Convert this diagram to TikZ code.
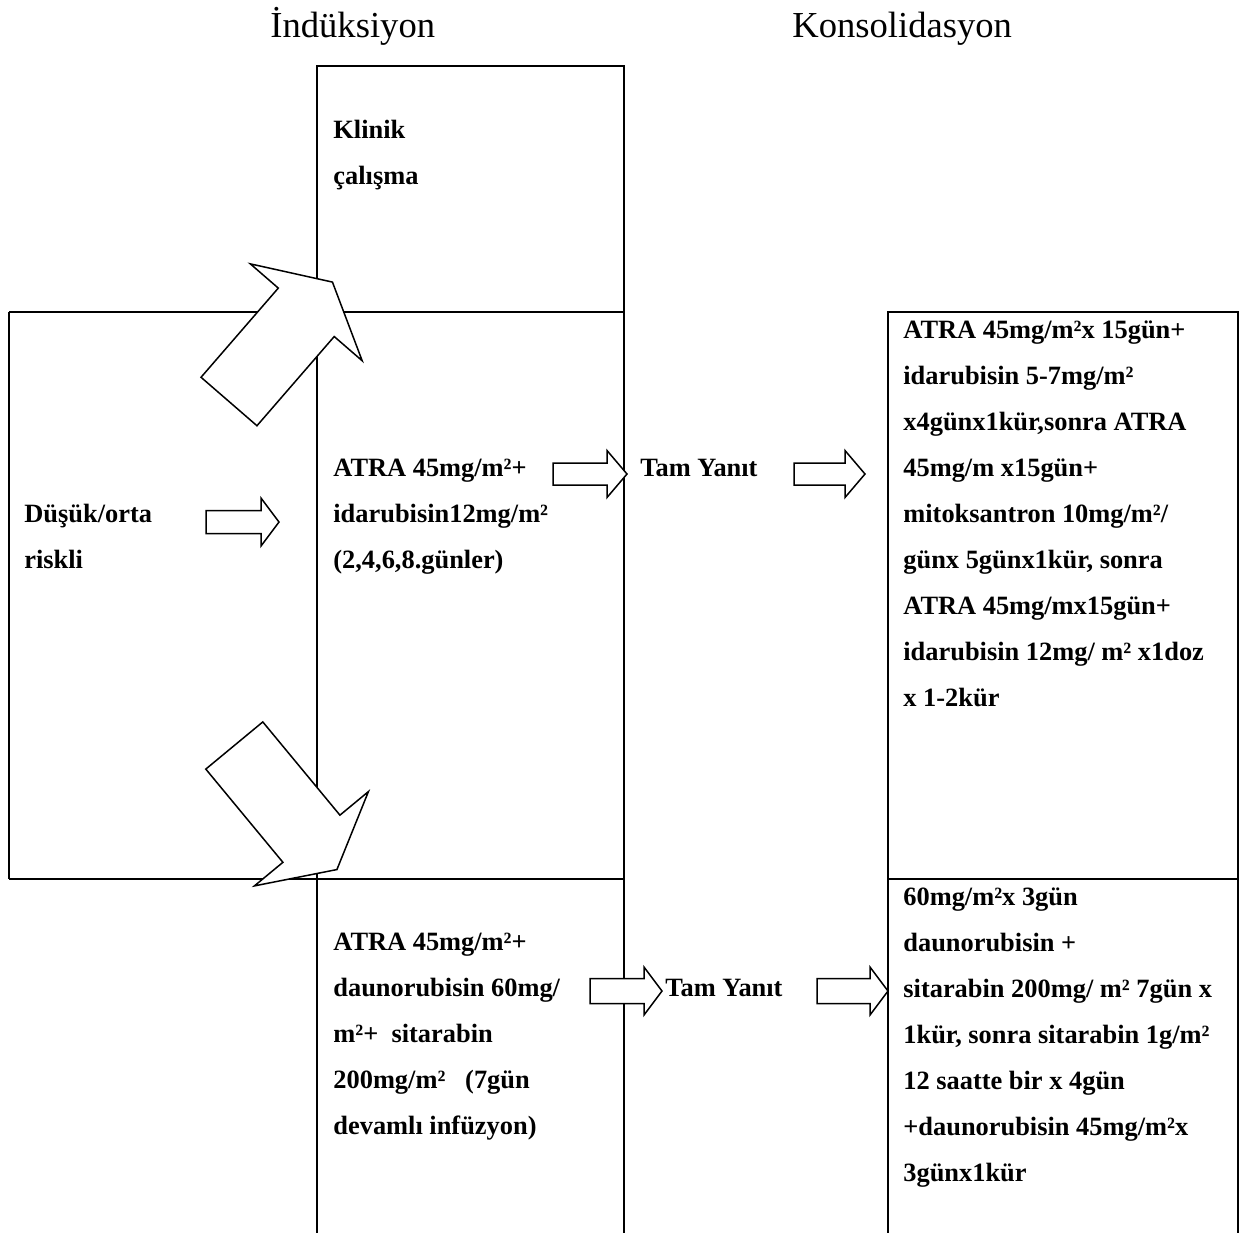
\documentclass[tikz,border=0pt]{standalone}
\usepackage{fontspec}
\setmainfont{Liberation Serif}
\usepackage{tikz}

% block arrow: tail x, tail y, angle, shaft length, shaft width, head width, head length
\newcommand{\blockarrow}[7]{%
  \begin{scope}[shift={(#1,#2)},rotate=#3]
    \draw[blockarr] (0,-#5/2) -- (#4,-#5/2) -- (#4,-#6/2) -- (#4+#7,0) -- (#4,#6/2) -- (#4,#5/2) -- (0,#5/2) -- cycle;
  \end{scope}}

\begin{document}
\begin{tikzpicture}[x=0.5pt,y=-0.5pt,
    cell/.style={line width=1pt},
    blockarr/.style={line width=0.75pt,fill=white,line join=miter},
    txt/.style={anchor=base west,inner sep=0pt,align=left,font=\fontsize{13.2}{23}\selectfont\bfseries},
    title/.style={anchor=base west,inner sep=0pt,font=\fontsize{18.3}{22}\selectfont}]
        \useasboundingbox (0,0) rectangle (1239,1233);

        % table lines
        \begin{scope}[cell]
            \draw (317,312) -- (317,66) -- (624,66) -- (624,312);
            \draw (9,312) -- (624,312);
            \draw (9,879) -- (624,879);
            \draw (9,312) -- (9,879);
            \draw (317,312) -- (317,1233);
            \draw (624,312) -- (624,1233);
            \draw (888,1233) -- (888,312) -- (1238,312) -- (1238,1233);
            \draw (888,879) -- (1238,879);
        \end{scope}

        % arrows
        \blockarrow{229}{401.5}{49.1}{118}{74}{148}{40}
        \blockarrow{234.3}{745.5}{-50.4}{121}{74}{148}{40}
        \blockarrow{206}{522}{0}{55}{23}{48}{18}
        \blockarrow{553}{474}{0}{54}{22}{47}{20}
        \blockarrow{794}{474}{0}{51}{22}{47}{20}
        \blockarrow{590}{991}{0}{54}{25}{48}{18}
        \blockarrow{817}{991}{0}{53}{25}{48}{18}

        % texts (base = baseline of the last line)
        \node[title] (induksiyon) at (270,37) {İndüksiyon};
        \node[title] (konsolidasyon) at (792,37) {Konsolidasyon};
        \node[txt] (klinik) at (333,184) {Klinik\\çalışma};
        \node[txt] (dusuk) at (24,568) {Düşük/orta\\riskli};
        \node[txt] (atraida) at (333,568) {ATRA 45mg/m²+\\idarubisin12mg/m²\\(2,4,6,8.günler)};
        \node[txt] (tamA) at (640,476) {Tam Yanıt};
        \node[txt] (konsA) at (903,706) {ATRA 45mg/m²x 15gün+\\idarubisin 5-7mg/m²\\x4günx1kür,sonra ATRA\\45mg/m x15gün+\\mitoksantron 10mg/m²/\\günx 5günx1kür, sonra\\ATRA 45mg/mx15gün+\\idarubisin 12mg/ m² x1doz\\x 1-2kür};
        \node[txt] (atradauno) at (333,1134) {ATRA 45mg/m²+\\daunorubisin 60mg/\\m²+\ \ sitarabin\\200mg/m²\ \ \ (7gün\\devamlı infüzyon)};
        \node[txt] (tamB) at (665,996) {Tam Yanıt};
        \node[txt] (konsB) at (903,1181) {60mg/m²x 3gün\\daunorubisin +\\sitarabin 200mg/ m² 7gün x\\1kür, sonra sitarabin 1g/m²\\12 saatte bir x 4gün\\+daunorubisin 45mg/m²x\\3günx1kür};
    \end{tikzpicture}
\end{document}
